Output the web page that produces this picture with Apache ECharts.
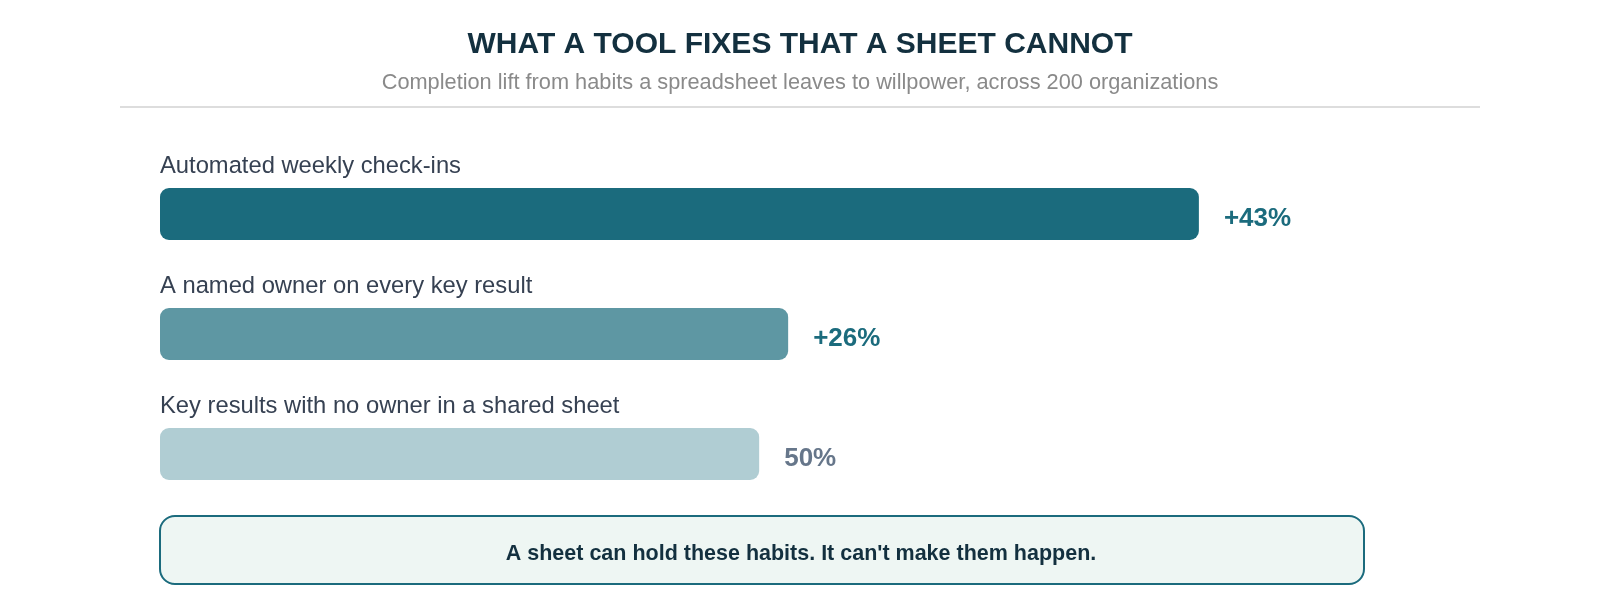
<!DOCTYPE html>
<html>
<head>
<meta charset="utf-8">
<script src="https://cdn.jsdelivr.net/npm/echarts@6/dist/echarts.min.js"></script>
<style>
	html, body { margin: 0; padding: 0; background: #fff; }
	#chart { width: 1600px; height: 600px; }
</style>
</head>
<body>
<div id="chart"></div>
<script>
// habits, top to bottom
var categories = ['Automated weekly check-ins', 'A named owner on every key result', 'Key results with no owner in a shared sheet'];
// bar lengths (same scale for all three)
var values = [43, 26, 24.8];
// text printed at the end of each bar
var valueLabels = ['+43%', '+26%', '50%'];
var barColors = ['#1b6b7d', '#5e97a3', '#b0cdd3'];
var labelColors = ['#1b6b7d', '#1b6b7d', '#66768a'];

var font = '"Liberation Sans", Arial, sans-serif';
var chart = echarts.init(document.getElementById('chart'));

var option = {
	animation: false,
	title: {
		text: 'WHAT A TOOL FIXES THAT A SHEET CANNOT',
		subtext: 'Completion lift from habits a spreadsheet leaves to willpower, across 200 organizations',
		left: 'center',
		top: 25,
		itemGap: 12,
		textStyle: { fontFamily: font, fontSize: 30, fontWeight: 'bold', color: '#13303f' },
		subtextStyle: { fontFamily: font, fontSize: 21.75, color: '#8a8a8a' }
	},
	grid: { left: 160, right: 232, top: 154, bottom: 86 },
	xAxis: {
		type: 'value', min: 0, max: 50,
		show: false
	},
	yAxis: {
		type: 'category', data: categories, inverse: true,
		show: false
	},
	series: [{
		// category names sitting above each bar
		type: 'bar',
		data: values,
		barWidth: 52,
		silent: true,
		itemStyle: { color: 'rgba(0,0,0,0)' },
		label: {
			show: true,
			position: [0, -22],
			verticalAlign: 'middle',
			formatter: function(p) { return categories[p.dataIndex]; },
			fontFamily: font, fontSize: 23.75, color: '#364152'
		},
		z: 1
	}, {
		type: 'bar',
		data: values.map(function(v, i) {
			return {
				value: v,
				itemStyle: { color: barColors[i] },
				label: { color: labelColors[i] }
			};
		}),
		barWidth: 52,
		barGap: '-100%',
		itemStyle: { borderRadius: 9 },
		label: {
			show: true,
			position: 'right',
			distance: 25,
			offset: [0, 5],
			formatter: function(p) { return valueLabels[p.dataIndex]; },
			fontFamily: font, fontSize: 26, fontWeight: 'bold'
		},
		z: 2
	}],
	graphic: [{
		type: 'line',
		shape: { x1: 120, y1: 107, x2: 1480, y2: 107 },
		style: { stroke: '#dddddd', lineWidth: 2 }
	}, {
		type: 'rect',
		shape: { x: 160, y: 516, width: 1204, height: 68, r: 15 },
		style: { fill: '#eef6f3', stroke: '#1b6b7d', lineWidth: 2 }
	}, {
		type: 'text',
		x: 801, y: 554,
		style: {
			text: "A sheet can hold these habits. It can't make them happen.",
			align: 'center', verticalAlign: 'middle',
			font: 'bold 21.5px ' + font,
			fill: '#13303f'
		}
	}]
};

chart.setOption(option);
</script>
</body>
</html>
